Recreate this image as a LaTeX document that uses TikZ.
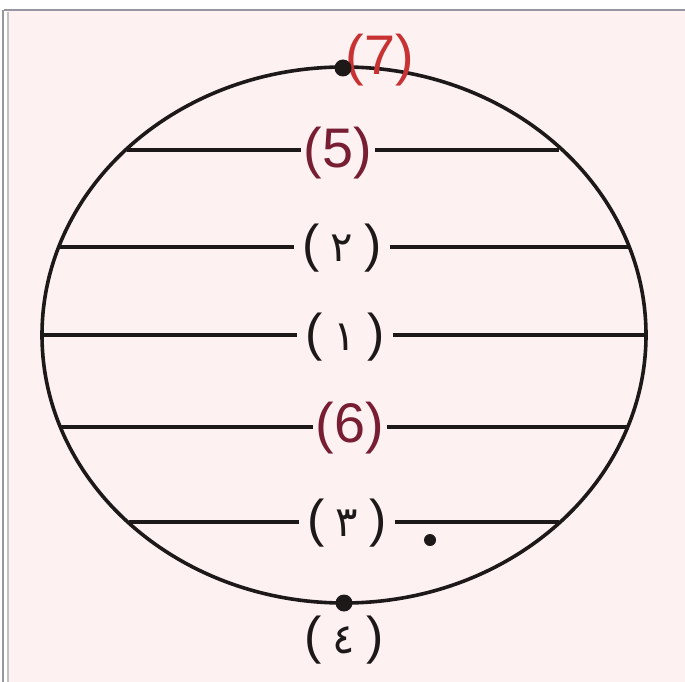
\documentclass[tikz,border=0pt]{standalone}
\usepackage{fontspec}
\setmainfont{Liberation Sans}
\newfontfamily\arabicfont[Script=Arabic]{DejaVu Sans}
\definecolor{bgpink}{RGB}{253,241,242}
\definecolor{framegray}{RGB}{150,150,160}
\definecolor{lblred}{RGB}{200,50,50}
\definecolor{lblmaroon}{RGB}{120,30,50}
\definecolor{ink}{RGB}{30,25,25}
\newcommand{\ard}[1]{(\hspace{11bp}{\arabicfont\fontsize{42}{42}\selectfont #1}\hspace{11bp})}
\tikzset{
  rim/.style={draw=ink, line width=3.6bp},
  chord/.style={draw=ink, line width=3.4bp},
  latinlbl/.style={inner sep=3bp, font=\fontsize{56}{56}\selectfont, text=lblmaroon},
  arablbl/.style={inner ysep=3bp, inner xsep=8bp, font=\fontsize{52}{52}\selectfont, text=ink},
  dotmark/.style={fill=ink, circle, inner sep=0pt, minimum size=17bp},
}
\begin{document}
\begin{tikzpicture}[x=1bp, y=-1bp]
\useasboundingbox (0,0) rectangle (685,682);
\fill[white] (0,0) rectangle (685,682);
\fill[bgpink] (8,11) rectangle (685,682);
\draw[framegray, line width=2.5bp] (4,10) -- (685,10);
\draw[framegray, line width=2bp] (3,10) -- (3,682);
\draw[framegray!60, line width=1.5bp] (8,12) -- (8,682);

% ellipse
\draw[rim] (344,335) ellipse [x radius=302, y radius=268];

% labels
\node[latinlbl, text=lblred] (l7) at (380,60) {(7)};
\node[latinlbl] (l5) at (338,153) {(5)};
\node[arablbl] (l2) at (342,248) {\ard{٢}};
\node[arablbl] (l1) at (345,337) {\ard{١}};
\node[latinlbl] (l6) at (350,428) {(6)};
\node[arablbl] (l3) at (347,523) {\ard{٣}};
\node[arablbl] (l4) at (344,640) {\ard{٤}};

% chord end points on the ellipse
\coordinate (a1) at (127,150);  \coordinate (b1) at (559,150);
\coordinate (a2) at (59,247);   \coordinate (b2) at (628,247);
\coordinate (a3) at (43,335);   \coordinate (b3) at (645,335);
\coordinate (a4) at (61,427);   \coordinate (b4) at (627,427);
\coordinate (a5) at (129,522);  \coordinate (b5) at (559,522);

\draw[chord] (a1) -- (l5.west |- a1);  \draw[chord] (l5.east |- b1) -- (b1);
\draw[chord] (a2) -- (l2.west |- a2);  \draw[chord] (l2.east |- b2) -- (b2);
\draw[chord] (a3) -- (l1.west |- a3);  \draw[chord] (l1.east |- b3) -- (b3);
\draw[chord] (a4) -- (l6.west |- a4);  \draw[chord] (l6.east |- b4) -- (b4);
\draw[chord] (a5) -- (l3.west |- a5);  \draw[chord] (l3.east |- b5) -- (b5);

% dots
\node[dotmark] (ptop) at (343,68) {};
\node[dotmark] (pbot) at (344,603) {};
\node[dotmark, minimum size=12bp] (pin) at (430,540) {};
\end{tikzpicture}
\end{document}
